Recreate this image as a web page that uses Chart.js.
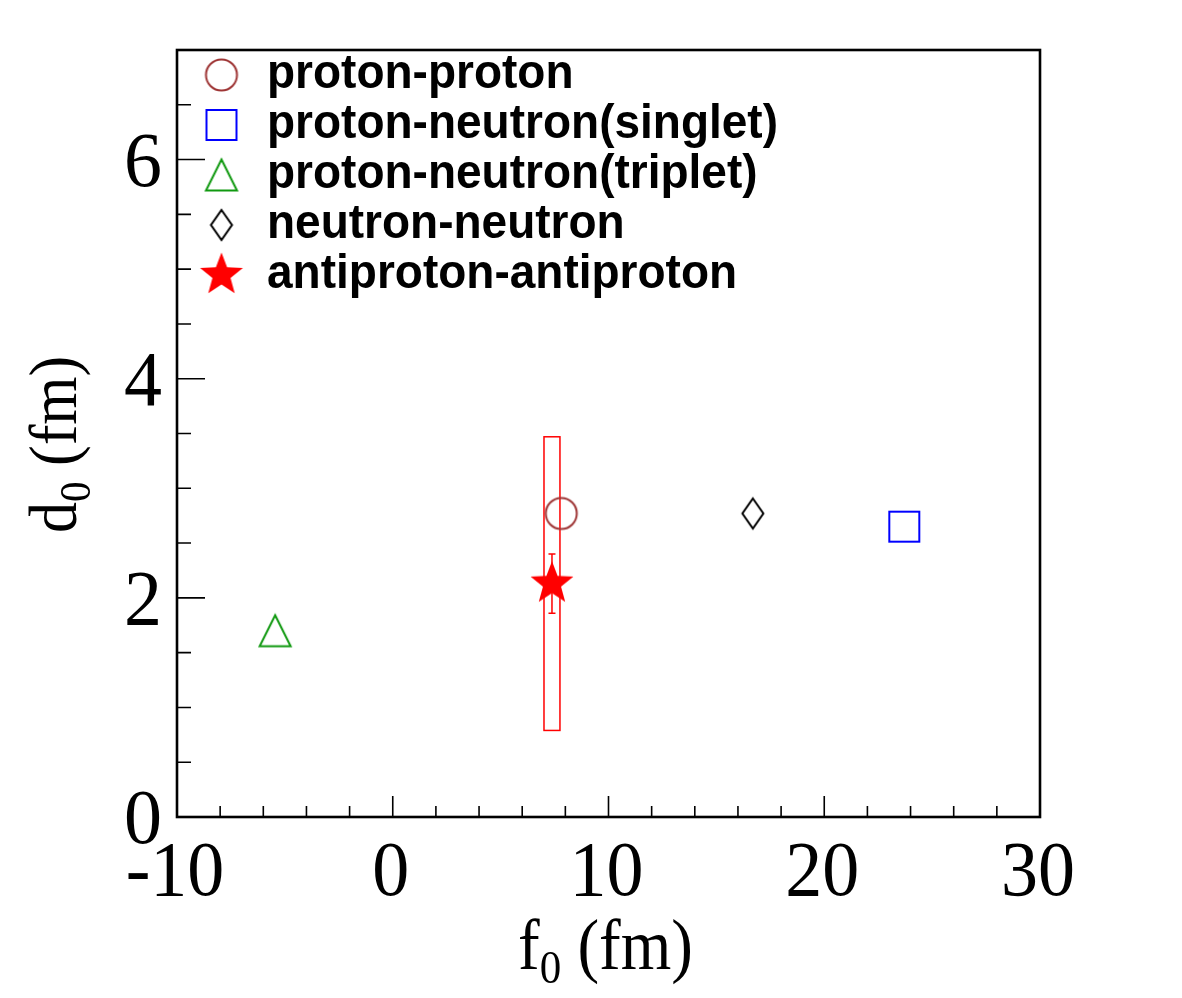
<!DOCTYPE html>
<html>
<head>
<meta charset="utf-8">
<script src="https://cdn.jsdelivr.net/npm/chart.js@4.4.1/dist/chart.umd.min.js"></script>
<style>
  html, body { margin: 0; background: #fff; }
</style>
</head>
<body>
<canvas id="chart" width="1182" height="998"></canvas>
<script>
const labels = ['proton-proton', 'proton-neutron(singlet)', 'proton-neutron(triplet)', 'neutron-neutron', 'antiproton-antiproton']
const f0 = [7.81, 23.71, -5.45, 16.69, 7.38]
const d0 = [2.77, 2.65, 1.70, 2.77, 2.13]
const shapes = ['circle', 'square', 'triangle', 'diamond', 'star']
const colors = ['#9e3535', '#0000ff', '#109910', '#000000', '#ff0000']
// antiproton-antiproton uncertainties (stat on d0, sys box on f0/d0)
const apStat = 0.27
const apSysF = 0.37
const apSysD = 1.34
const xTicks = [-10, 0, 10, 20, 30]
const yTicks = [0, 2, 4, 6]

const SERIF = '"Liberation Serif", "Times New Roman", serif'
const SANS = '"Liberation Sans", Arial, sans-serif'

function makeMarker(shape, color) {
  const c = document.createElement('canvas')
  c.width = 48; c.height = 48
  const g = c.getContext('2d')
  const m = 24
  g.strokeStyle = color; g.fillStyle = color; g.lineWidth = 2
  g.beginPath()
  if (shape === 'circle') g.arc(m, m, 15.5, 0, Math.PI * 2)
  else if (shape === 'square') g.rect(m - 15, m - 15, 30, 30)
  else if (shape === 'triangle') { g.moveTo(m, m - 15.5); g.lineTo(m + 15.5, m + 15.5); g.lineTo(m - 15.5, m + 15.5); g.closePath() }
  else if (shape === 'diamond') { g.moveTo(m, m - 15); g.lineTo(m + 10.5, m); g.lineTo(m, m + 15); g.lineTo(m - 10.5, m); g.closePath() }
  else if (shape === 'star') {
    const R = 22.5, r = 9.5
    for (let k = 0; k < 10; k++) {
      const a = -Math.PI / 2 + k * Math.PI / 5
      const rr = k % 2 === 0 ? R : r
      const px = m + rr * Math.cos(a), py = m + rr * Math.sin(a)
      if (k === 0) g.moveTo(px, py); else g.lineTo(px, py)
    }
    g.closePath()
    g.fill()
    return c
  }
  g.stroke()
  return c
}

const markers = shapes.map((s, i) => makeMarker(s, colors[i]))

const datasets = labels.map((label, i) => ({
  label,
  data: [{ x: f0[i], y: d0[i] }],
  pointStyle: markers[i],
  pointRadius: 20,
  pointHoverRadius: 20
}))

// systematic box and stat error bar for antiproton-antiproton
const errorPlugin = {
  id: 'errors',
  beforeDatasetsDraw(chart) {
    const { ctx, scales: { x, y } } = chart
    const i = 4
    ctx.save()
    ctx.strokeStyle = colors[i]
    ctx.lineWidth = 1.5
    const x1 = x.getPixelForValue(f0[i] - apSysF), x2 = x.getPixelForValue(f0[i] + apSysF)
    const y1 = y.getPixelForValue(d0[i] + apSysD), y2 = y.getPixelForValue(d0[i] - apSysD)
    ctx.strokeRect(x1, y1, x2 - x1, y2 - y1)
    const cx = x.getPixelForValue(f0[i])
    const ya = y.getPixelForValue(d0[i] + apStat), yb = y.getPixelForValue(d0[i] - apStat)
    ctx.beginPath()
    ctx.moveTo(cx, ya); ctx.lineTo(cx, yb)
    ctx.moveTo(cx - 3.5, ya); ctx.lineTo(cx + 3.5, ya)
    ctx.moveTo(cx - 3.5, yb); ctx.lineTo(cx + 3.5, yb)
    ctx.stroke()
    ctx.restore()
  }
}

// text slightly taller than wide, like the original renderer
function stretchedText(ctx, txt, tx, ty, align, font, sy) {
  ctx.save()
  ctx.translate(tx, ty)
  ctx.scale(1, sy)
  ctx.font = font
  ctx.textAlign = align
  ctx.textBaseline = 'alphabetic'
  ctx.fillStyle = '#000'
  ctx.fillText(txt, 0, 0)
  ctx.restore()
}

function drawTitle(ctx, tx, ty, rot, main, sub, rest, size) {
  ctx.save()
  ctx.translate(tx, ty)
  if (rot) ctx.rotate(-Math.PI / 2)
  ctx.scale(1, 1.1)
  ctx.fillStyle = '#000'
  ctx.textAlign = 'left'
  ctx.textBaseline = 'alphabetic'
  ctx.font = size + 'px ' + SERIF
  ctx.fillText(main, 0, 0)
  let w = ctx.measureText(main).width
  ctx.font = Math.round(size * 0.66) + 'px ' + SERIF
  ctx.fillText(sub, w, 13)
  w += ctx.measureText(sub).width
  ctx.font = size + 'px ' + SERIF
  ctx.fillText(rest, w, 0)
  ctx.restore()
}

const framePlugin = {
  id: 'frame',
  afterDraw(chart) {
    const { ctx, chartArea: a, scales: { x, y } } = chart
    ctx.save()
    ctx.strokeStyle = '#000'
    ctx.lineWidth = 1.6
    ctx.beginPath()
    for (let k = 0; k <= 20; k++) {
      const v = -10 + k * 2
      const px = x.getPixelForValue(v)
      const len = k % 5 === 0 ? 21 : 11
      ctx.moveTo(px, a.bottom); ctx.lineTo(px, a.bottom - len)
    }
    for (let k = 0; k <= 14; k++) {
      const v = k * 0.5
      const py = y.getPixelForValue(v)
      const len = k % 4 === 0 ? 28 : 14
      ctx.moveTo(a.left, py); ctx.lineTo(a.left + len, py)
    }
    ctx.stroke()
    ctx.lineWidth = 2.6
    ctx.strokeRect(a.left, a.top, a.right - a.left, a.bottom - a.top)

    // tick labels from the scales' own ticks
    x.ticks.forEach(t => stretchedText(ctx, String(t.value), x.getPixelForValue(t.value) - 2, a.bottom + 78, 'center', '74px ' + SERIF, 1.06))
    y.ticks.forEach(t => stretchedText(ctx, String(t.value), a.left - 15, y.getPixelForValue(t.value) + 26, 'right', '76px ' + SERIF, 1.03))

    // legend
    labels.forEach((lab, i) => {
      const ry = 75 + i * 50
      const m = markers[i]
      ctx.drawImage(m, 221.5 - m.width / 2, ry - m.height / 2)
      stretchedText(ctx, lab, 267, ry + 13, 'left', 'bold 46px ' + SANS, 1.04)
    })
    ctx.restore()

    drawTitle(ctx, 518, 969, false, 'f', '0', ' (fm)', 65)
    drawTitle(ctx, 76, 533, true, 'd', '0', ' (fm)', 62)
  }
}

new Chart(document.getElementById('chart'), {
  type: 'scatter',
  data: { datasets },
  options: {
    responsive: false,
    animation: false,
    layout: { padding: { top: 50, right: 142, left: 0, bottom: 0 } },
    plugins: { legend: { display: false }, tooltip: { enabled: false } },
    scales: {
      x: {
        type: 'linear', min: -10, max: 30,
        afterBuildTicks: s => { s.ticks = xTicks.map(v => ({ value: v })) },
        afterFit: s => { s.height = 181 },
        grid: { display: false, drawTicks: false },
        border: { display: false },
        ticks: { display: false }
      },
      y: {
        type: 'linear', min: 0, max: 7,
        afterBuildTicks: s => { s.ticks = yTicks.map(v => ({ value: v })) },
        afterFit: s => { s.width = 177 },
        grid: { display: false, drawTicks: false },
        border: { display: false },
        ticks: { display: false }
      }
    }
  },
  plugins: [errorPlugin, framePlugin]
})
</script>
</body>
</html>
